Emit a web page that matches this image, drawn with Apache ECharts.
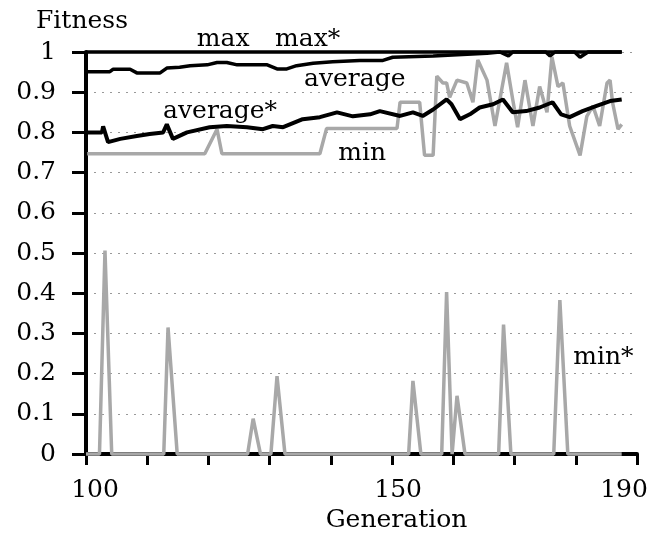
<!DOCTYPE html>
<html>
<head>
<meta charset="utf-8">
<script src="https://cdn.jsdelivr.net/npm/echarts@6/dist/echarts.min.js"></script>
<style>
  html, body { margin: 0; padding: 0; background: #fff; }
  #chart { width: 652px; height: 538px; }
</style>
</head>
<body>
<div id="chart"></div>
<script>
// x labels shown on the generation axis
var xTickLabels = ['100', '150', '190'];

// [generation, fitness]
var maxData = [[100, 1], [187.5, 1]];
var maxStarData = [[100, 1], [187.5, 1]];

var avgData = [
  [100.2, 0.951], [103.9, 0.951], [104.4, 0.957], [107.2, 0.957], [108.3, 0.948],
  [112.1, 0.948], [113.2, 0.96], [115.3, 0.962], [117, 0.966], [119.8, 0.968],
  [121.4, 0.974], [123, 0.974], [124.7, 0.968], [129.6, 0.968], [131.2, 0.958],
  [132.8, 0.958], [134.4, 0.966], [137.1, 0.972], [140.3, 0.976], [144.7, 0.979],
  [148.5, 0.979], [150.1, 0.987], [156.7, 0.99], [165.5, 0.997], [167.6, 1],
  [169, 0.99], [169.7, 1], [175.1, 1], [175.8, 0.99], [176.6, 1], [179.8, 1],
  [180.7, 0.987], [182, 1], [187.5, 1]
];

var avgStarData = [
  [100.2, 0.8], [102.6, 0.8], [102.8, 0.815], [103.6, 0.776], [105.6, 0.784],
  [108.3, 0.791], [110.4, 0.796], [112.6, 0.8], [113.2, 0.82], [114.2, 0.784],
  [116.5, 0.8], [120.2, 0.813], [123, 0.816], [126.3, 0.813], [128.9, 0.808],
  [130.5, 0.816], [132.2, 0.813], [135.4, 0.833], [138.2, 0.838], [141, 0.85],
  [143.6, 0.84], [146.4, 0.845], [148, 0.853], [151.3, 0.841], [153.4, 0.85],
  [155, 0.841], [156.7, 0.857], [158.9, 0.882], [159.7, 0.87], [161.1, 0.833],
  [162.7, 0.845], [164.3, 0.862], [166.5, 0.87], [168.1, 0.882], [169.7, 0.85],
  [171.9, 0.853], [174.1, 0.862], [176.2, 0.875], [177.6, 0.845], [179, 0.838],
  [181.1, 0.853], [183.4, 0.866], [185.6, 0.878], [187.5, 0.882]
];

var minData = [
  [100.2, 0.747], [119.4, 0.747], [121.4, 0.808], [122.2, 0.747], [138.2, 0.747],
  [139.3, 0.81], [150.8, 0.81], [151.3, 0.875], [154.5, 0.875], [155.3, 0.743],
  [156.7, 0.743], [157.3, 0.94], [158.3, 0.923], [158.9, 0.923], [159.4, 0.887],
  [160.6, 0.93], [162.2, 0.923], [163.2, 0.875], [164, 0.98], [165.5, 0.93],
  [166.8, 0.816], [167.6, 0.882], [168.7, 0.973], [169.7, 0.882], [170.5, 0.813],
  [171.7, 0.93], [173, 0.816], [174.1, 0.914], [175.3, 0.85], [176.1, 0.988],
  [177.1, 0.914], [177.9, 0.923], [179, 0.816], [180.7, 0.743], [181.8, 0.84],
  [182.8, 0.866], [183.9, 0.816], [185.1, 0.923], [185.6, 0.93], [186, 0.875],
  [186.9, 0.808], [187.5, 0.82]
];

var minStarData = [
  [100, 0], [102.2, 0], [103.1, 0.506], [104.2, 0], [112.7, 0], [113.4, 0.315],
  [114.9, 0], [126.4, 0], [127.3, 0.088], [128.5, 0], [130.2, 0], [131.2, 0.194],
  [132.5, 0], [152.7, 0], [153.4, 0.182], [154.7, 0], [158.1, 0], [158.9, 0.403],
  [159.8, 0], [160.6, 0.145], [161.9, 0], [167.4, 0], [168.2, 0.322], [169.4, 0],
  [176.4, 0], [177.4, 0.383], [178.7, 0], [187.5, 0]
];

var font = 'DejaVu Serif';

function tag(name, coord, offset) {
  return {
    symbol: 'circle',
    symbolSize: 1,
    itemStyle: { color: 'transparent' },
    label: {
      show: true,
      position: 'inside',
      offset: offset || [0, 0],
      formatter: name,
      color: '#000',
      fontFamily: font,
      fontSize: 25
    },
    data: [{ coord: coord }]
  };
}

function line(name, data, color, width, mark) {
  return {
    name: name,
    type: 'line',
    data: data,
    showSymbol: false,
    symbol: 'none',
    animation: false,
    clip: false,
    lineStyle: { color: color, width: width },
    markPoint: mark
  };
}

// label text nudges, like the hand-set labels of the original plot
var xLabelStyle = { color: '#000', fontFamily: font, fontSize: 25 };
var xRich = {
  a: Object.assign({ padding: [0, 0, 0, 18] }, xLabelStyle),
  b: Object.assign({ padding: [0, 0, 0, 12] }, xLabelStyle),
  c: Object.assign({ padding: [0, 26, 0, 0] }, xLabelStyle)
};

var chart = echarts.init(document.getElementById('chart'));

chart.setOption({
  backgroundColor: '#fff',
  animation: false,
  grid: { left: 86, right: 15, top: 52, bottom: 79 },
  xAxis: {
    type: 'value',
    min: 100,
    max: 190,
    interval: 10,
    name: 'Generation',
    nameLocation: 'middle',
    nameGap: 52,
    nameTextStyle: { color: '#000', fontFamily: font, fontSize: 25, padding: [0, 0, 0, 70] },
    axisLine: { lineStyle: { color: '#000', width: 4 } },
    axisTick: { length: 11, lineStyle: { color: '#000', width: 3 } },
    axisLabel: {
      color: '#000',
      fontFamily: font,
      fontSize: 25,
      margin: 24,
      rich: xRich,
      formatter: function (v) {
        var s = String(v);
        var i = xTickLabels.indexOf(s);
        if (i < 0) return '';
        return '{' + 'abc'.charAt(i) + '|' + s + '}';
      }
    },
    splitLine: { show: false }
  },
  yAxis: {
    type: 'value',
    min: 0,
    max: 1,
    interval: 0.1,
    name: 'Fitness',
    nameLocation: 'end',
    nameGap: 18,
    nameTextStyle: { color: '#000', fontFamily: font, fontSize: 25, padding: [0, 8, 0, 0] },
    axisLine: { show: true, lineStyle: { color: '#000', width: 4 } },
    axisTick: { show: true, length: 14, lineStyle: { color: '#000', width: 3 } },
    axisLabel: {
      color: '#000',
      fontFamily: font,
      fontSize: 25,
      margin: 30,
      formatter: function (v) {
        if (v === 0) return '0';
        if (v === 1) return '1';
        return v.toFixed(1);
      }
    },
    splitLine: { show: true, lineStyle: { color: '#999', width: 1, type: [2, 6] } }
  },
  series: [
    line('min*', minStarData, '#a8a8a8', 3.5, tag('min*', [184.5, 0.241])),
    line('min', minData, '#a8a8a8', 3.5, tag('min', [145.1, 0.747])),
    line('average*', avgStarData, '#000', 4, tag('average*', [121.9, 0.853])),
    line('average', avgData, '#000', 3.5, tag('average', [143.9, 0.931])),
    line('max*', maxStarData, '#000', 3, tag('max*', [136.2, 1], [0, -13])),
    line('max', maxData, '#000', 3, tag('max', [122.4, 1], [0, -13]))
  ]
});
</script>
</body>
</html>
